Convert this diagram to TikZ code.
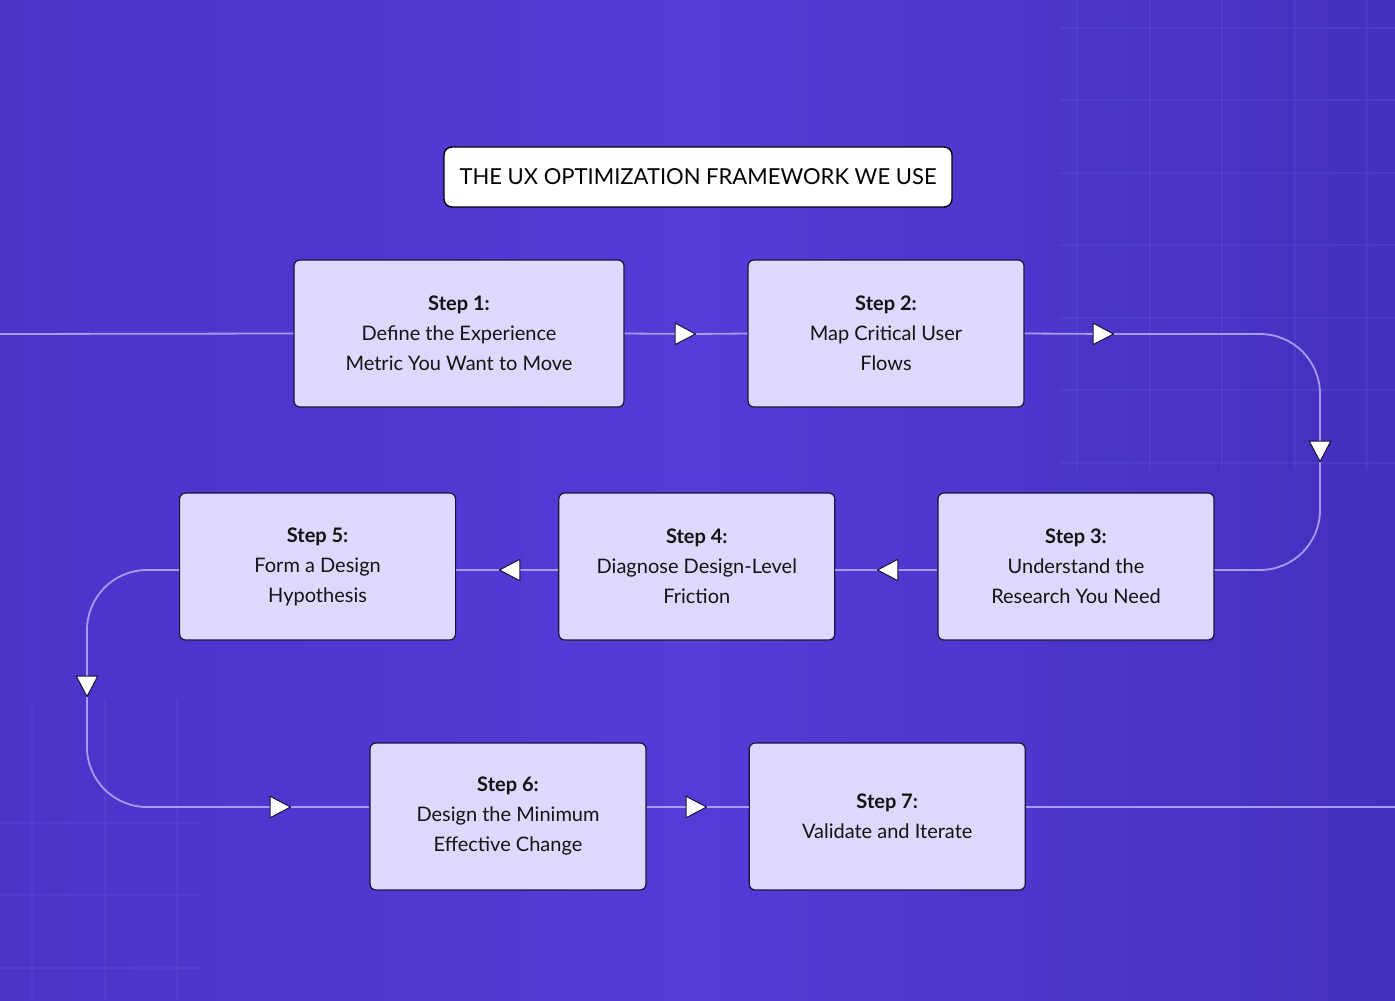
\documentclass[tikz,border=0pt]{standalone}
\usepackage{fontspec}
\setmainfont{Lato}
\usepackage{xcolor}
\usepackage{tikz}
\usetikzlibrary{arrows.meta,positioning}
\definecolor{bgleft}{RGB}{74,52,200}
\definecolor{bgmid}{RGB}{84,60,215}
\definecolor{bgright}{RGB}{68,48,190}
\definecolor{gridglow}{RGB}{110,90,228}
\definecolor{stepfill}{RGB}{221,216,252}
\definecolor{stepedge}{RGB}{24,20,54}
\definecolor{linklav}{RGB}{168,156,240}
\tikzset{
  stepbox/.style={
    rectangle,
    rounded corners=3pt,
    draw=stepedge,
    line width=0.6pt,
    fill=stepfill,
    align=center,
    minimum width=138pt,
    minimum height=73.5pt,
    inner sep=4pt,
    text=black!92,
    font=\fontsize{10}{15}\selectfont
  },
  titlebox/.style={
    rectangle,
    rounded corners=4pt,
    draw=black,
    line width=0.7pt,
    fill=white,
    minimum width=254pt,
    minimum height=30pt,
    inner sep=4pt,
    text=black,
    font=\fontsize{11}{13}\selectfont
  },
  flowline/.style={
    draw=linklav,
    line width=0.9pt,
    rounded corners=30pt
  },
  flowtip/.style={
    -{Triangle[length=11pt,width=11.5pt,fill=white,color=stepedge,line width=0.5pt,round]}
  }
}

\begin{document}
\begin{tikzpicture}[x=0.5pt, y=-0.5pt, node distance=51pt and 51pt]
\useasboundingbox (0,0) rectangle (1395,1000);
\shade[left color=bgleft, right color=bgright, middle color=bgmid] (0,0) rectangle (1395,1000);

% faint grid, top right and bottom left
\begin{scope}[draw=gridglow, line width=0.6pt, opacity=0.22]
  \foreach \gx in {1077,1150,1222,1295,1367}
    \draw (\gx,0) -- (\gx,470);
  \foreach \gy in {28,100,173,245,318,390,463}
    \draw (1060,\gy) -- (1395,\gy);
  \foreach \gx in {32,105,177}
    \draw (\gx,700) -- (\gx,1000);
  \foreach \gy in {823,895,968}
    \draw (0,\gy) -- (200,\gy);
\end{scope}

\node[titlebox] (title) at (698,177) {THE UX OPTIMIZATION FRAMEWORK WE USE};

\node[stepbox, minimum width=165pt] (step1) at (459,333.5) {\textbf{Step 1:}\\Define the Experience\\Metric You Want to Move};
\node[stepbox] (step2) at (886,333.5) {\textbf{Step 2:}\\Map Critical User\\Flows};
\node[stepbox] (step3) at (1076,566.5) {\textbf{Step 3:}\\Understand the\\Research You Need};
\node[stepbox, left=of step3] (step4) {\textbf{Step 4:}\\Diagnose Design-Level\\Friction};
\node[stepbox, left=of step4] (step5) {\textbf{Step 5:}\\Form a Design\\Hypothesis};
\node[stepbox] (step6) at (508,816.5) {\textbf{Step 6:}\\Design the Minimum\\Effective Change};
\node[stepbox, right=of step6] (step7) {\textbf{Step 7:}\\Validate and Iterate};

% rows and arrow points
\coordinate (row2) at (0,570);
\coordinate (row3) at (0,807);
\coordinate (inleft) at (0,334);
\coordinate (tip12) at (696,334);
\coordinate (tip23a) at (1114,334);
\coordinate (tip23b) at (1320,462);
\coordinate (tip34) at (877,570);
\coordinate (tip45) at (499,570);
\coordinate (tip5d) at (87,697);
\coordinate (tip56) at (291,807);
\coordinate (tip67) at (707,807);
\coordinate (outright) at (1395,807);

\draw[flowline] (inleft) -- (step1.west);
\draw[flowline, flowtip] (step1.east) -- (tip12);
\draw[flowline] (tip12) -- (step2.west);
\draw[flowline, flowtip] (step2.east) -- (tip23a);
\draw[flowline, flowtip] (tip23a) -| (tip23b);
\draw[flowline] (tip23b) |- (step3.east |- row2);
\draw[flowline, flowtip] (step3.west |- row2) -- (tip34);
\draw[flowline] (tip34) -- (step4.east |- row2);
\draw[flowline, flowtip] (step4.west |- row2) -- (tip45);
\draw[flowline] (tip45) -- (step5.east |- row2);
\draw[flowline, flowtip] (step5.west |- row2) -| (tip5d);
\draw[flowline, flowtip] (tip5d) |- (tip56);
\draw[flowline] (tip56) -- (step6.west |- row3);
\draw[flowline, flowtip] (step6.east |- row3) -- (tip67);
\draw[flowline] (tip67) -- (step7.west |- row3);
\draw[flowline] (step7.east |- row3) -- (outright);
\end{tikzpicture}
\end{document}
